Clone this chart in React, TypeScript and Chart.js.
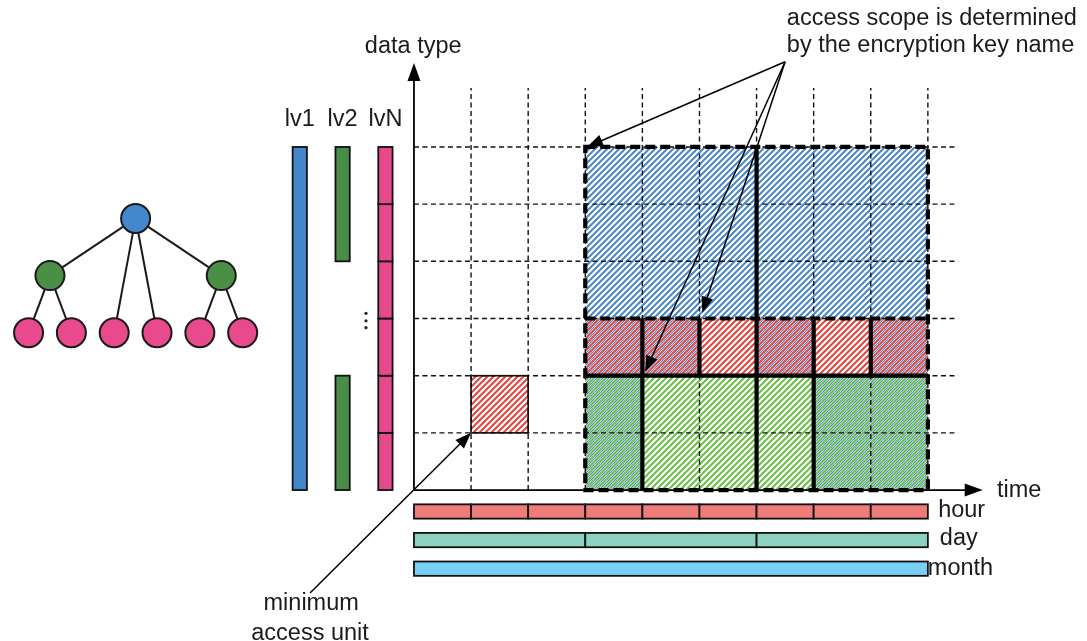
import React, { useEffect, useRef } from "react";
import { Chart, registerables } from "chart.js";

Chart.register(...registerables);

// ---------- data space (one grid cell = 1 unit) ----------
const xRange = [-7.25, 11.787];
const yRange = [-2.64, 8.57];

// ---------- main grid ----------
const timeGridLines = [1, 2, 3, 4, 5, 6, 7, 8, 9];
const typeGridLines = [1, 2, 3, 4, 5, 6];
const gridTop = 7.03;
const gridRight = 9.53;
const yAxisTip = 7.47;
const xAxisTip = 9.96;

// ---------- key regions: [x0, x1, y0, y1, mixedWithBlue] ----------
const blueKeys = [[3, 9, 3, 6, 0]];
const redKeys = [
  [3, 4, 2, 3, 1], [4, 5, 2, 3, 1], [5, 6, 2, 3, 0],
  [6, 7, 2, 3, 1], [7, 8, 2, 3, 0], [8, 9, 2, 3, 1],
];
const greenKeys = [[3, 4, 0, 2, 1], [4, 6, 0, 2, 0], [6, 7, 0, 2, 0], [7, 9, 0, 2, 1]];
const minUnitCell = [1, 2, 1, 2];
const scopeBox = [3, 9, 0, 6];
const keyEdgesSolid = [
  [6, 3, 6, 6], [3, 2, 9, 2],
  [4, 2, 4, 3], [5, 2, 5, 3], [6, 2, 6, 3], [7, 2, 7, 3], [8, 2, 8, 3],
  [4, 0, 4, 2], [6, 0, 6, 2], [7, 0, 7, 2],
];
const keyEdgesDashed = [[3, 3, 9, 3]];

// ---------- annotation arrows ----------
const scopeArrowFrom = [6.5, 7.49];
const scopeArrowTips = [[3.03, 6.0], [5.05, 3.1], [4.05, 2.07]];
const unitArrowFrom = [-1.82, -1.8];
const unitArrowTip = [1, 1];

// ---------- level bars (left) ----------
const lvLabels = ["lv1", "lv2", "lvN"];
const lvX = [-2, -1.25, -0.5];
const lvSegments = [
  [[0, 6]],
  [[4, 6], [0, 2]],
  [[0, 1], [1, 2], [2, 3], [3, 4], [4, 5], [5, 6]],
];
const lvColors = ["#4287C9", "#4A8C4A", "#E74A8C"];
const lvDotsX = -0.84;
const lvDotsY = [3.09, 2.96, 2.84];

// ---------- time granularity bars (bottom) ----------
const timeBarLabels = ["hour", "day", "month"];
const timeBarRows = [[-0.5, -0.25], [-1.0, -0.75], [-1.5, -1.25]];
const hourSegments = [[0, 1], [1, 2], [2, 3], [3, 4], [4, 5], [5, 6], [6, 7], [7, 8], [8, 9]];
const daySegments = [[0, 3], [3, 6], [6, 9]];
const monthSegments = [[0, 9]];
const timeBarColors = ["#EE7C78", "#8DD3C1", "#79CFF6"];
const timeBarLabelPos = [[9.18, -0.47], [9.21, -0.96], [9.0, -1.49]];

// ---------- tree ----------
const treeX = [-4.875, -6.375, -3.375, -6.75, -6.0, -5.25, -4.5, -3.75, -3.0];
const treeY = [4.75, 3.75, 3.75, 2.75, 2.75, 2.75, 2.75, 2.75, 2.75];
const treeLevel = [0, 1, 1, 2, 2, 2, 2, 2, 2];
const treeEdges = [[0, 1], [0, 2], [0, 5], [0, 6], [1, 3], [1, 4], [2, 7], [2, 8]];
const treeColors = ["#4388CC", "#4A8F45", "#E84A8D"];

// ---------- texts ----------
const axisYLabel = { text: "data type", x: -0.86, y: 7.64 };
const axisXLabel = { text: "time", x: 10.21, y: -0.12 };
const scopeNote = [
  { text: "access scope is determined", x: 6.53, y: 8.13 },
  { text: "by the encryption key name", x: 6.53, y: 7.66 },
];
const unitNote = [
  { text: "minimum", x: -1.8, y: -2.1 },
  { text: "access unit", x: -1.82, y: -2.63 },
];
const lvLabelY = 6.37;

const FONT = '23.5px "Liberation Sans", Arial, Helvetica, sans-serif';
const INK = "#1b1b1b";

function makeHatch(ctx: CanvasRenderingContext2D, main: string, extra: string | null) {
  const s = 6;
  const c = document.createElement("canvas");
  c.width = s;
  c.height = s;
  const g = c.getContext("2d")!;
  const stripe = (color: string, off: number, w: number) => {
    g.strokeStyle = color;
    g.lineWidth = w;
    g.lineCap = "square";
    for (let k = -2; k <= 2; k++) {
      const x = k * s + off;
      g.beginPath();
      g.moveTo(x, s);
      g.lineTo(x + s, 0);
      g.stroke();
    }
  };
  stripe(main, 0, 2.0);
  if (extra) stripe(extra, 3, 1.2);
  return ctx.createPattern(c, "repeat")!;
}

const diagramPlugin = {
  id: "diagram",
  beforeDatasetsDraw(chart: any) {
    const ctx: CanvasRenderingContext2D = chart.ctx;
    const sx = chart.scales.x;
    const sy = chart.scales.y;
    const X = (v: number) => sx.getPixelForValue(v);
    const Y = (v: number) => sy.getPixelForValue(v);
    const unitW = X(1) - X(0);

    ctx.save();

    // hatched fills
    const fillKeys = (keys: number[][], color: string) => {
      const pure = makeHatch(ctx, color, null);
      const mixed = makeHatch(ctx, color, "#4A86C8");
      keys.forEach((k) => {
        ctx.fillStyle = k[4] ? mixed : pure;
        ctx.fillRect(X(k[0]), Y(k[3]), X(k[1]) - X(k[0]), Y(k[2]) - Y(k[3]));
      });
    };
    fillKeys(blueKeys, "#4A86C8");
    fillKeys(redKeys, "#E8433C");
    fillKeys(greenKeys, "#6CBF47");
    // minimum unit cell
    ctx.fillStyle = makeHatch(ctx, "#E8433C", null);
    const [mx0, mx1, my0, my1] = minUnitCell;
    ctx.fillRect(X(mx0), Y(my1), X(mx1) - X(mx0), Y(my0) - Y(my1));

    // thin dashed grid
    ctx.strokeStyle = "#111";
    ctx.lineWidth = 1.4;
    ctx.setLineDash([5, 3.5]);
    timeGridLines.forEach((t) => {
      ctx.beginPath();
      ctx.moveTo(X(t), Y(0));
      ctx.lineTo(X(t), Y(gridTop));
      ctx.stroke();
    });
    typeGridLines.forEach((t) => {
      ctx.beginPath();
      ctx.moveTo(X(0), Y(t));
      ctx.lineTo(X(gridRight), Y(t));
      ctx.stroke();
    });
    ctx.setLineDash([]);

    // minimum unit border
    ctx.lineWidth = 1.6;
    ctx.strokeRect(X(mx0), Y(my1), X(mx1) - X(mx0), Y(my0) - Y(my1));

    // key boundaries
    ctx.strokeStyle = "#000";
    ctx.lineWidth = 4.2;
    ctx.lineCap = "butt";
    keyEdgesSolid.forEach((e) => {
      ctx.beginPath();
      ctx.moveTo(X(e[0]), Y(e[1]));
      ctx.lineTo(X(e[2]), Y(e[3]));
      ctx.stroke();
    });
    ctx.setLineDash([10, 5]);
    keyEdgesDashed.forEach((e) => {
      ctx.beginPath();
      ctx.moveTo(X(e[0]), Y(e[1]));
      ctx.lineTo(X(e[2]), Y(e[3]));
      ctx.stroke();
    });
    ctx.strokeRect(X(scopeBox[0]), Y(scopeBox[3]), X(scopeBox[1]) - X(scopeBox[0]), Y(scopeBox[2]) - Y(scopeBox[3]));
    ctx.setLineDash([]);

    // arrows
    const arrow = (x1: number, y1: number, x2: number, y2: number, lw: number, len: number, half: number) => {
      const dx = x2 - x1;
      const dy = y2 - y1;
      const d = Math.hypot(dx, dy);
      const ux = dx / d;
      const uy = dy / d;
      const bx = x2 - ux * len;
      const by = y2 - uy * len;
      ctx.strokeStyle = "#000";
      ctx.fillStyle = "#000";
      ctx.lineWidth = lw;
      ctx.beginPath();
      ctx.moveTo(x1, y1);
      ctx.lineTo(bx + ux * 1, by + uy * 1);
      ctx.stroke();
      ctx.beginPath();
      ctx.moveTo(x2, y2);
      ctx.lineTo(bx - uy * half, by + ux * half);
      ctx.lineTo(bx + uy * half, by - ux * half);
      ctx.closePath();
      ctx.fill();
    };
    // axes
    arrow(X(0), Y(0), X(0), Y(yAxisTip), 1.8, 18, 6.5);
    arrow(X(0), Y(0), X(xAxisTip), Y(0), 1.8, 18, 6.5);
    scopeArrowTips.forEach((t) => {
      arrow(X(scopeArrowFrom[0]), Y(scopeArrowFrom[1]), X(t[0]), Y(t[1]), 1.5, 16, 6);
    });
    arrow(X(unitArrowFrom[0]), Y(unitArrowFrom[1]), X(unitArrowTip[0]), Y(unitArrowTip[1]), 1.5, 16, 6);

    // level bars
    const barHalf = unitW * 0.125;
    lvX.forEach((cx, i) => {
      lvSegments[i].forEach((s) => {
        ctx.fillStyle = lvColors[i];
        ctx.strokeStyle = "#111";
        ctx.lineWidth = 1.8;
        const x0 = X(cx) - barHalf;
        ctx.fillRect(x0, Y(s[1]), barHalf * 2, Y(s[0]) - Y(s[1]));
        ctx.strokeRect(x0, Y(s[1]), barHalf * 2, Y(s[0]) - Y(s[1]));
      });
    });
    ctx.fillStyle = "#222";
    lvDotsY.forEach((dy) => {
      ctx.beginPath();
      ctx.arc(X(lvDotsX), Y(dy), 1.6, 0, Math.PI * 2);
      ctx.fill();
    });

    // time bars
    const timeSegs = [hourSegments, daySegments, monthSegments];
    timeSegs.forEach((segs, i) => {
      const [r0, r1] = timeBarRows[i];
      segs.forEach((s) => {
        ctx.fillStyle = timeBarColors[i];
        ctx.strokeStyle = "#111";
        ctx.lineWidth = 1.8;
        ctx.fillRect(X(s[0]), Y(r1), X(s[1]) - X(s[0]), Y(r0) - Y(r1));
        ctx.strokeRect(X(s[0]), Y(r1), X(s[1]) - X(s[0]), Y(r0) - Y(r1));
      });
    });

    // tree edges
    ctx.strokeStyle = "#1a1a1a";
    ctx.lineWidth = 2;
    treeEdges.forEach(([a, b]) => {
      ctx.beginPath();
      ctx.moveTo(X(treeX[a]), Y(treeY[a]));
      ctx.lineTo(X(treeX[b]), Y(treeY[b]));
      ctx.stroke();
    });

    // texts
    ctx.fillStyle = INK;
    ctx.font = FONT;
    ctx.textBaseline = "alphabetic";
    ctx.textAlign = "left";
    ctx.fillText(axisYLabel.text, X(axisYLabel.x), Y(axisYLabel.y));
    ctx.fillText(axisXLabel.text, X(axisXLabel.x), Y(axisXLabel.y));
    scopeNote.forEach((t) => ctx.fillText(t.text, X(t.x), Y(t.y)));
    timeBarLabels.forEach((t, i) => ctx.fillText(t, X(timeBarLabelPos[i][0]), Y(timeBarLabelPos[i][1])));
    ctx.textAlign = "center";
    unitNote.forEach((t) => ctx.fillText(t.text, X(t.x), Y(t.y)));
    lvLabels.forEach((t, i) => ctx.fillText(t, X(lvX[i]), Y(lvLabelY)));

    ctx.restore();
  },
};

export default function App() {
  const ref = useRef<HTMLCanvasElement | null>(null);
  useEffect(() => {
    if (!ref.current) return;
    const chart = new Chart(ref.current, {
      type: "scatter",
      data: {
        datasets: [
          {
            data: treeX.map((x, i) => ({ x, y: treeY[i] })),
            pointRadius: 14.5,
            pointHoverRadius: 14.5,
            pointBackgroundColor: treeLevel.map((l) => treeColors[l]),
            pointBorderColor: "#1a1a1a",
            pointBorderWidth: 2,
            clip: false,
          },
        ],
      },
      options: {
        animation: false,
        responsive: true,
        maintainAspectRatio: false,
        layout: { padding: 0, autoPadding: false },
        plugins: { legend: { display: false }, tooltip: { enabled: false } },
        events: [],
        scales: {
          x: { type: "linear", min: xRange[0], max: xRange[1], display: false },
          y: { type: "linear", min: yRange[0], max: yRange[1], display: false },
        },
      },
      plugins: [diagramPlugin],
    });
    return () => chart.destroy();
  }, []);
  return (
    <div style={{ position: "fixed", left: 0, top: 0, width: 1087, height: 641, background: "#fff" }}>
      <canvas ref={ref} />
    </div>
  );
}
